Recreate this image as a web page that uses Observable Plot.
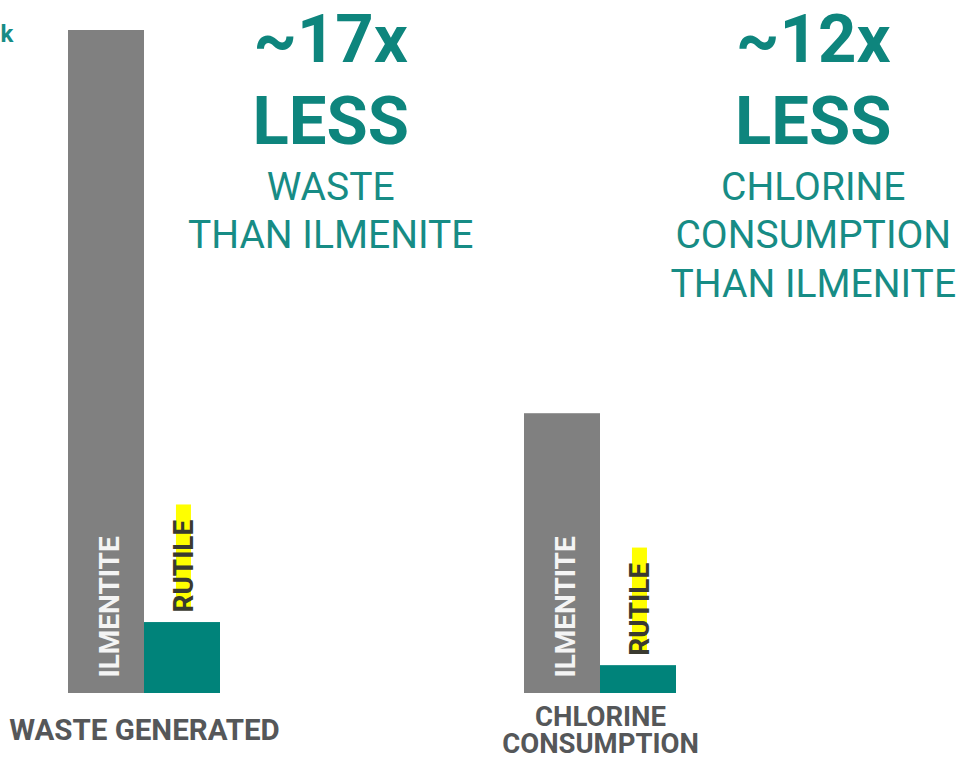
<!DOCTYPE html>
<html>
<head>
<meta charset="utf-8">
<script src="https://cdn.jsdelivr.net/npm/d3@7"></script>
<script src="https://cdn.jsdelivr.net/npm/@observablehq/plot@0.6"></script>
<style>
  html, body { margin: 0; padding: 0; background: #ffffff; }
  #chart svg { display: block; }
</style>
</head>
<body>
<div id="chart"></div>
<script>
// ---- data ----
const categories = ["WASTE GENERATED", "CHLORINE CONSUMPTION"];
const ilmenite = [100, 42.2];
const rutile = [10.7, 4.2];
const barLabels = ["ILMENTITE", "RUTILE"];
const multiples = ["~17x", "~12x"];
const headlineWord = "LESS";
const subtitles = [["WASTE", "THAN ILMENITE"], ["CHLORINE", "CONSUMPTION", "THAN ILMENITE"]];
const axisLabels = ["WASTE GENERATED", "CHLORINE\nCONSUMPTION"];
const cornerFragment = "k";

// ---- layout / style (not data) ----
const GREY = "#808080", TEAL_BAR = "#00837a", TEAL_TXT = "#178c85", DARK = "#555759";
const groupSlots = 6;                 // slots between the starts of the two groups
const blockCenter = [3.45, 9.8];      // annotation block centres, in slot units
const lineY = [40, 122, 187, 235, 284];
const axisLabelSize = [29.5, 27.5];
const FONT = "Roboto, 'DejaVu Sans', sans-serif";

const bars = categories.flatMap((c, g) => [
  {cat: c, g, s: 0, material: barLabels[0], v: ilmenite[g]},
  {cat: c, g, s: 1, material: barLabels[1], v: rutile[g]}
]);

const annotation = [];
categories.forEach((c, g) => {
  const lines = [multiples[g], headlineWord, ...subtitles[g]];
  lines.forEach((t, k) => annotation.push({g, k, t}));
});

const marks = [
  Plot.rectY(bars, {
    x1: d => d.g * groupSlots + d.s,
    x2: d => d.g * groupSlots + d.s + 1,
    y1: 0, y2: "v",
    fill: d => d.s === 0 ? GREY : TEAL_BAR
  }),
  // ILMENTITE labels inside the grey bars
  Plot.text(bars.filter(d => d.s === 0), {
    x: d => d.g * groupSlots + 0.5, y: 0, text: "material",
    rotate: -90, textAnchor: "start", lineAnchor: "middle",
    dy: -16, dx: 4, fill: "#f4f4f4",
    fontSize: 28, fontWeight: 700, fontFamily: FONT
  }),
  // RUTILE labels above teal bars
  Plot.text(bars.filter(d => d.s === 1), {
    x: d => d.g * groupSlots + 1.5, y: "v", text: "material",
    rotate: -90, textAnchor: "start", lineAnchor: "middle",
    dy: -10, dx: 2, fill: "#3a3a30",
    fontSize: 28, fontWeight: 700, fontFamily: FONT,
    className: "rutile-label"
  }),
  // category labels under the bars
  Plot.text(categories, {
    x: (d, i) => i * groupSlots + 1, frameAnchor: "bottom", dy: -30,
    text: (d, i) => axisLabels[i], lineAnchor: "middle", lineHeight: 0.99,
    fill: DARK, fontSize: (d, i) => axisLabelSize[i], fontWeight: 700, fontFamily: FONT
  }),
  // corner fragment
  Plot.text([cornerFragment], {
    frameAnchor: "top-left", dx: 0, dy: 34, text: d => d,
    textAnchor: "start", lineAnchor: "middle",
    fill: TEAL_TXT, fontSize: 24, fontWeight: 700, fontFamily: FONT
  })
];

// annotation lines, one mark per line row
lineY.forEach((py, k) => {
  const rows = annotation.filter(d => d.k === k);
  if (!rows.length) return;
  const big = k < 2;
  marks.push(Plot.text(rows, {
    x: d => blockCenter[d.g], frameAnchor: "top", dy: py,
    text: "t", lineAnchor: "middle", textAnchor: "middle",
    fill: big ? "#0e857d" : TEAL_TXT,
    fontSize: big ? 67 : 39, fontWeight: big ? 700 : 400, fontFamily: FONT
  }));
});

const chart = Plot.plot({
  width: 971,
  height: 760,
  margin: 0,
  style: {background: "#ffffff", overflow: "hidden"},
  x: {type: "linear", domain: [0, 12], range: [68, 68 + 76 * 12], axis: null},
  y: {domain: [0, 100], range: [693, 30], axis: null},
  marks
});

document.getElementById("chart").appendChild(chart);

// yellow highlight behind RUTILE labels, sized from the rendered text
chart.querySelectorAll(".rutile-label text").forEach(t => {
  const b = t.getBBox();
  const cy = b.y + b.height / 2;
  const r = document.createElementNS("http://www.w3.org/2000/svg", "rect");
  r.setAttribute("x", b.x + 4);
  r.setAttribute("width", b.width + 11);
  r.setAttribute("y", cy - 8);
  r.setAttribute("height", 15);
  r.setAttribute("fill", "#ffff00");
  const tr = t.getAttribute("transform");
  if (tr) r.setAttribute("transform", tr);
  t.parentNode.insertBefore(r, t);
});
</script>
</body>
</html>
